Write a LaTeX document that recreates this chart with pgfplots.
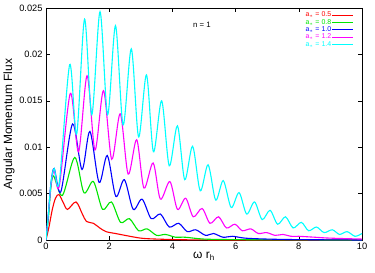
\documentclass[border=0pt]{standalone}
\usepackage{fontspec}
\setmainfont{Liberation Sans}
\usepackage{pgfplots}
\pgfplotsset{compat=1.18}
\definecolor{gpgreen}{RGB}{0,230,0}
\definecolor{gpcyan}{RGB}{0,255,255}
\definecolor{gpmag}{RGB}{255,0,255}
\begin{document}
\begin{tikzpicture}
\useasboundingbox (-46bp,-33bp) rectangle (329bp,240bp);
\begin{axis}[
  at={(0,0)}, anchor=south west,
  scale only axis, width=316bp, height=232bp,
  xmin=0, xmax=10, ymin=0, ymax=0.025,
  xtick={0,2,4,6,8,10},
  ytick={0,0.005,0.01,0.015,0.02,0.025},
  scaled y ticks=false,
  yticklabel style={/pgf/number format/.cd, fixed, precision=3},
  /pgf/number format/assume math mode=true,
  tick label style={font=\fontsize{9.3}{10}\selectfont},
  tick align=inside, major tick length=4bp,
  tick style={black, line width=0.6bp},
  axis line style={line width=0.8bp},
  xlabel={ω r\textsubscript{h}},
  ylabel={Angular Momentum Flux},
  label style={font=\fontsize{12}{13}\selectfont},
  ylabel style={at={(axis description cs:-0.117,0.5)}, anchor=center},
  xlabel style={at={(axis description cs:0.5,-0.069)}, anchor=center},
  legend plot pos=right,
  legend cell align=right,
  legend image code/.code={\draw[#1] (0bp,0bp) -- (21bp,0bp);},
  legend style={at={(axis description cs:1,1)}, xshift=-8bp, yshift=-3.4bp,
    anchor=north east, draw=none, fill=none, inner sep=0pt,
    font=\fontsize{7}{7}\selectfont,
    nodes={inner sep=0.5bp, text height=4.9bp, text depth=1.4bp},
    row sep=0pt},
  every axis plot/.append style={line width=1.1bp, smooth},
]
\addplot[red] coordinates {
(0,0) (0.1,0.0015) (0.2,0.0033) (0.3,0.0045) (0.41,0.0049) (0.55,0.0040) (0.68,0.0033) (0.95,0.0041) (1.15,0.0028) (1.28,0.0020) (1.5,0.0018) (1.7,0.0013) (1.9,0.0009) (2.2,0.0007) (2.5,0.0005) (3,0.0002) (3.5,0.0001) (4.5,0.00002) (6,0) (10,0)
};
\addlegendentry{\textcolor{red}{a$_*$ = 0.5}}
\addplot[gpgreen] coordinates {
(0,0) (0.08,0.0025) (0.15,0.0055) (0.24,0.0069) (0.52,0.0048) (0.91,0.0089) (1.2,0.0051) (1.5,0.0063) (1.79,0.0033) (2.07,0.0041) (2.36,0.0019) (2.64,0.0023) (2.93,0.0010) (3.2,0.0012) (3.5,0.0005) (3.78,0.0006) (4.1,0.0003) (4.4,0.0003) (5,0.0001) (6,0.00004) (8,0.00001) (10,0)
};
\addlegendentry{\textcolor{gpgreen}{a$_*$ = 0.8}}
\addplot[blue] coordinates {
(0,0) (0.08,0.003) (0.16,0.0062) (0.26,0.0077) (0.47,0.0052) (0.84,0.0125) (1.14,0.0076) (1.39,0.0117) (1.68,0.0062) (1.94,0.0091) (2.21,0.0047) (2.48,0.0065) (2.76,0.0033) (3.04,0.0044) (3.33,0.0023) (3.62,0.0028) (3.9,0.0014) (4.2,0.0018) (4.47,0.0009) (4.74,0.0011) (5.05,0.0005) (5.3,0.0007) (5.6,0.0003) (5.9,0.0004) (6.3,0.0002) (7,0.0001) (8,0.00004) (10,0)
};
\addlegendentry{\textcolor{blue}{a$_*$ = 1.0}}
\addplot[gpmag] coordinates {
(0,0) (0.08,0.003) (0.16,0.006) (0.26,0.0075) (0.42,0.0058) (0.77,0.0158) (1.03,0.0095) (1.30,0.0177) (1.55,0.0097) (1.82,0.0161) (2.08,0.0087) (2.35,0.0136) (2.60,0.0071) (2.87,0.0108) (3.10,0.0056) (3.39,0.0083) (3.62,0.0044) (3.92,0.0063) (4.16,0.0033) (4.42,0.0045) (4.66,0.0025) (4.94,0.0034) (5.19,0.0018) (5.46,0.0025) (5.71,0.0013) (5.98,0.0017) (6.21,0.0010) (6.48,0.0012) (6.72,0.0007) (6.98,0.0008) (7.25,0.0005) (7.5,0.0006) (7.75,0.0004) (8.0,0.0004) (8.5,0.0003) (9,0.0002) (10,0.0001)
};
\addlegendentry{\textcolor{gpmag}{a$_*$ = 1.2}}
\addplot[gpcyan] coordinates {
(0,0) (0.08,0.003) (0.16,0.0062) (0.26,0.0077) (0.42,0.0062) (0.75,0.0189) (0.97,0.0114) (1.22,0.0238) (1.45,0.0135) (1.71,0.0246) (1.95,0.0135) (2.20,0.0231) (2.44,0.0124) (2.70,0.0206) (2.93,0.0111) (3.18,0.0178) (3.40,0.0095) (3.66,0.0150) (3.90,0.0080) (4.16,0.0123) (4.39,0.0065) (4.64,0.0101) (4.88,0.0053) (5.13,0.0081) (5.37,0.0043) (5.61,0.0064) (5.86,0.0035) (6.11,0.0051) (6.35,0.0028) (6.60,0.0041) (6.84,0.0022) (7.09,0.0032) (7.33,0.0017) (7.58,0.0025) (7.82,0.0013) (8.08,0.0019) (8.31,0.0010) (8.56,0.0014) (8.80,0.0008) (9.06,0.0011) (9.29,0.0006) (9.53,0.0009) (9.78,0.0004) (10,0.0007)
};
\addlegendentry{\textcolor{gpcyan}{a$_*$ = 1.4}}
\node[anchor=west, font=\fontsize{7.8}{8}\selectfont, inner sep=0pt] at (axis cs:4.65,0.0232) {n = 1};
\end{axis}
\end{tikzpicture}
\end{document}
